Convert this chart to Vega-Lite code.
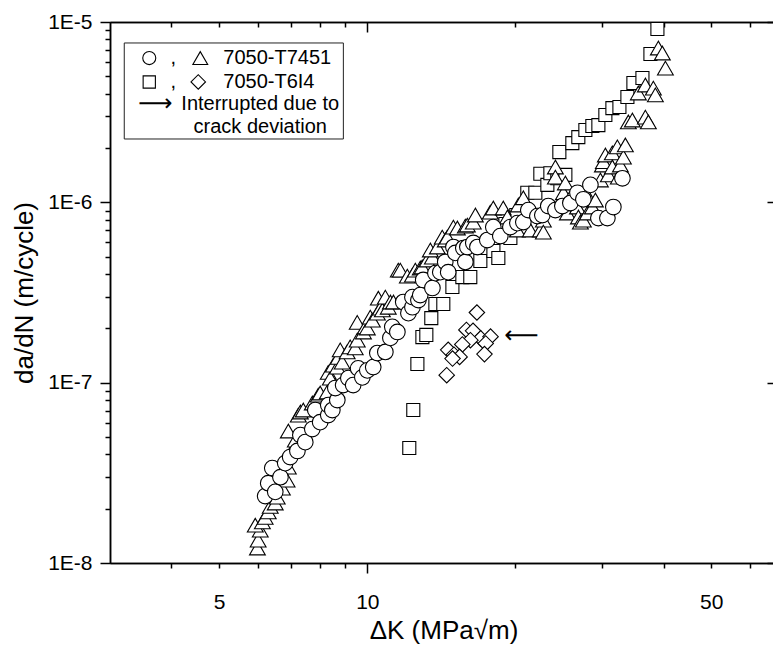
{
"$schema": "https://vega.github.io/schema/vega-lite/v6.json",
"usermeta": {"embedOptions": {"actions": false}},
"width": 667, "height": 541,
"autosize": {"type": "none"},
"padding": {"left": 110, "top": 22, "right": -4, "bottom": 84},
"background": "white",
"config": {
 "font": "Liberation Sans",
 "view": {"stroke": null},
 "axis": {"grid": false, "domainColor": "black", "domainWidth": 1.5, "tickColor": "black", "tickWidth": 1.5, "labelColor": "black", "labelFontSize": 21, "labelFont": "Liberation Sans", "titleFont": "Liberation Sans", "titleFontSize": 26, "titleFontWeight": "normal", "titleColor": "black", "labelFlush": false, "labelOverlap": false}
},
"datasets": {"pts": [
{"series":"sq","dK":12.17,"rate":4.34e-8},{"series":"sq","dK":12.4,"rate":7.05e-8},{"series":"sq","dK":12.64,"rate":1.27e-7},{"series":"sq","dK":12.94,"rate":1.79e-7},{"series":"sq","dK":13.18,"rate":1.84e-7},{"series":"sq","dK":13.49,"rate":2.28e-7},{"series":"sq","dK":13.75,"rate":2.73e-7},{"series":"sq","dK":14.27,"rate":2.73e-7},{"series":"sq","dK":14.89,"rate":3.39e-7},{"series":"sq","dK":15.6,"rate":3.85e-7},{"series":"sq","dK":16.19,"rate":3.85e-7},{"series":"sq","dK":16.97,"rate":4.73e-7},{"series":"sq","dK":18.04,"rate":5.37e-7},{"series":"sq","dK":18.46,"rate":4.91e-7},{"series":"sq","dK":19.08,"rate":7.58e-7},{"series":"sq","dK":19.53,"rate":6.34e-7},{"series":"sq","dK":20.08,"rate":8.5e-7},{"series":"sq","dK":21.14,"rate":1.13e-6},{"series":"sq","dK":21.95,"rate":1.13e-6},{"series":"sq","dK":22.47,"rate":1.44e-6},{"series":"sq","dK":23.22,"rate":1.25e-6},{"series":"sq","dK":23.55,"rate":1.45e-6},{"series":"sq","dK":24.33,"rate":1.36e-6},{"series":"sq","dK":24.56,"rate":1.9e-6},{"series":"sq","dK":25.26,"rate":1.42e-6},{"series":"sq","dK":26.1,"rate":2.13e-6},{"series":"sq","dK":26.84,"rate":2.3e-6},{"series":"sq","dK":27.74,"rate":2.52e-6},{"series":"sq","dK":28.66,"rate":2.65e-6},{"series":"sq","dK":29.48,"rate":2.68e-6},{"series":"sq","dK":30.46,"rate":3.05e-6},{"series":"sq","dK":31.48,"rate":3.33e-6},{"series":"sq","dK":32.53,"rate":3.38e-6},{"series":"sq","dK":33.77,"rate":3.84e-6},{"series":"sq","dK":34.73,"rate":4.59e-6},{"series":"sq","dK":36.23,"rate":4.89e-6},{"series":"sq","dK":37.61,"rate":6.65e-6},{"series":"sq","dK":38.86,"rate":9.15e-6},
{"series":"tr","dK":5.98,"rate":1.21e-8},{"series":"tr","dK":6.0,"rate":1.34e-8},{"series":"tr","dK":6.06,"rate":1.52e-8},{"series":"tr","dK":5.92,"rate":1.62e-8},{"series":"tr","dK":6.12,"rate":1.69e-8},{"series":"tr","dK":6.2,"rate":1.79e-8},{"series":"tr","dK":6.29,"rate":1.92e-8},{"series":"tr","dK":6.35,"rate":2.06e-8},{"series":"tr","dK":6.5,"rate":2.15e-8},{"series":"tr","dK":6.56,"rate":2.32e-8},{"series":"tr","dK":6.72,"rate":2.6e-8},{"series":"tr","dK":6.81,"rate":2.95e-8},{"series":"tr","dK":6.87,"rate":2.88e-8},{"series":"tr","dK":6.81,"rate":3.49e-8},{"series":"tr","dK":6.91,"rate":3.4e-8},{"series":"tr","dK":7.04,"rate":4.23e-8},{"series":"tr","dK":7.14,"rate":4.8e-8},{"series":"tr","dK":6.91,"rate":5.39e-8},{"series":"tr","dK":7.24,"rate":6.61e-8},{"series":"tr","dK":7.31,"rate":6.87e-8},{"series":"tr","dK":7.41,"rate":7.05e-8},{"series":"tr","dK":7.73,"rate":7.71e-8},{"series":"tr","dK":7.95,"rate":8.53e-8},{"series":"tr","dK":8.02,"rate":8.76e-8},{"series":"tr","dK":8.29,"rate":8.87e-8},{"series":"tr","dK":8.33,"rate":1.14e-7},{"series":"tr","dK":8.41,"rate":1.06e-7},{"series":"tr","dK":8.53,"rate":1.25e-7},{"series":"tr","dK":8.69,"rate":1.22e-7},{"series":"tr","dK":8.73,"rate":1.38e-7},{"series":"tr","dK":8.89,"rate":1.3e-7},{"series":"tr","dK":8.81,"rate":1.52e-7},{"series":"tr","dK":9.1,"rate":1.48e-7},{"series":"tr","dK":9.23,"rate":1.58e-7},{"series":"tr","dK":9.45,"rate":1.56e-7},{"series":"tr","dK":9.54,"rate":1.72e-7},{"series":"tr","dK":9.54,"rate":2.16e-7},{"series":"tr","dK":9.82,"rate":1.91e-7},{"series":"tr","dK":9.91,"rate":2.04e-7},{"series":"tr","dK":10.0,"rate":2.01e-7},{"series":"tr","dK":10.14,"rate":2.31e-7},{"series":"tr","dK":10.24,"rate":2.22e-7},{"series":"tr","dK":10.48,"rate":2.43e-7},{"series":"tr","dK":10.53,"rate":2.94e-7},{"series":"tr","dK":10.63,"rate":2.59e-7},{"series":"tr","dK":10.73,"rate":2.53e-7},{"series":"tr","dK":10.88,"rate":2.98e-7},{"series":"tr","dK":11.03,"rate":2.62e-7},{"series":"tr","dK":11.14,"rate":2.8e-7},{"series":"tr","dK":11.3,"rate":2.8e-7},{"series":"tr","dK":11.56,"rate":4.21e-7},{"series":"tr","dK":11.67,"rate":4.21e-7},{"series":"tr","dK":12.06,"rate":3.9e-7},{"series":"tr","dK":12.35,"rate":3.95e-7},{"series":"tr","dK":12.52,"rate":4.21e-7},{"series":"tr","dK":12.81,"rate":4.32e-7},{"series":"tr","dK":12.93,"rate":4.38e-7},{"series":"tr","dK":13.24,"rate":4.79e-7},{"series":"tr","dK":13.56,"rate":4.97e-7},{"series":"tr","dK":13.43,"rate":5.44e-7},{"series":"tr","dK":13.88,"rate":5.65e-7},{"series":"tr","dK":14.2,"rate":6.41e-7},{"series":"tr","dK":14.4,"rate":6.18e-7},{"series":"tr","dK":14.54,"rate":6.41e-7},{"series":"tr","dK":14.96,"rate":7.29e-7},{"series":"tr","dK":15.24,"rate":7.2e-7},{"series":"tr","dK":15.82,"rate":7.38e-7},{"series":"tr","dK":15.97,"rate":7.48e-7},{"series":"tr","dK":16.42,"rate":7.77e-7},{"series":"tr","dK":16.58,"rate":8.5e-7},{"series":"tr","dK":17.78,"rate":8.83e-7},{"series":"tr","dK":18.03,"rate":9.3e-7},{"series":"tr","dK":18.89,"rate":9.3e-7},{"series":"tr","dK":19.26,"rate":8.29e-7},{"series":"tr","dK":20.18,"rate":7.02e-7},{"series":"tr","dK":20.27,"rate":9.66e-7},{"series":"tr","dK":20.75,"rate":1.06e-6},{"series":"tr","dK":21.44,"rate":7.02e-7},{"series":"tr","dK":22.47,"rate":7.02e-7},{"series":"tr","dK":22.79,"rate":7.97e-7},{"series":"tr","dK":22.79,"rate":6.84e-7},{"series":"tr","dK":24.11,"rate":1.57e-6},{"series":"tr","dK":24.11,"rate":1.38e-6},{"series":"tr","dK":25.03,"rate":1.13e-6},{"series":"tr","dK":25.26,"rate":1.28e-6},{"series":"tr","dK":25.5,"rate":8.72e-7},{"series":"tr","dK":25.86,"rate":1.07e-6},{"series":"tr","dK":26.73,"rate":9.42e-7},{"series":"tr","dK":26.85,"rate":8.29e-7},{"series":"tr","dK":27.1,"rate":7.77e-7},{"series":"tr","dK":27.48,"rate":7.97e-7},{"series":"tr","dK":28.0,"rate":8.72e-7},{"series":"tr","dK":28.13,"rate":1.07e-6},{"series":"tr","dK":28.67,"rate":9.42e-7},{"series":"tr","dK":29.07,"rate":1.03e-6},{"series":"tr","dK":29.76,"rate":1.33e-6},{"series":"tr","dK":30.04,"rate":1.61e-6},{"series":"tr","dK":30.18,"rate":1.68e-6},{"series":"tr","dK":30.46,"rate":1.83e-6},{"series":"tr","dK":30.89,"rate":1.42e-6},{"series":"tr","dK":31.47,"rate":1.88e-6},{"series":"tr","dK":31.47,"rate":1.57e-6},{"series":"tr","dK":32.22,"rate":2.03e-6},{"series":"tr","dK":32.37,"rate":1.38e-6},{"series":"tr","dK":32.68,"rate":1.61e-6},{"series":"tr","dK":33.14,"rate":1.78e-6},{"series":"tr","dK":33.45,"rate":2.08e-6},{"series":"tr","dK":33.92,"rate":2.79e-6},{"series":"tr","dK":34.56,"rate":2.86e-6},{"series":"tr","dK":35.54,"rate":4.04e-6},{"series":"tr","dK":36.73,"rate":4.47e-6},{"series":"tr","dK":36.73,"rate":2.97e-6},{"series":"tr","dK":37.25,"rate":2.79e-6},{"series":"tr","dK":38.13,"rate":4.3e-6},{"series":"tr","dK":38.49,"rate":3.94e-6},{"series":"tr","dK":39.03,"rate":7.17e-6},{"series":"tr","dK":39.77,"rate":6.73e-6},{"series":"tr","dK":40.34,"rate":5.55e-6},
{"series":"di","dK":16.7,"rate":2.45e-7},{"series":"di","dK":15.9,"rate":1.96e-7},{"series":"di","dK":16.4,"rate":1.94e-7},{"series":"di","dK":17.0,"rate":1.76e-7},{"series":"di","dK":17.8,"rate":1.8e-7},{"series":"di","dK":16.2,"rate":1.72e-7},{"series":"di","dK":15.6,"rate":1.63e-7},{"series":"di","dK":17.4,"rate":1.65e-7},{"series":"di","dK":14.6,"rate":1.52e-7},{"series":"di","dK":15.0,"rate":1.43e-7},{"series":"di","dK":15.4,"rate":1.39e-7},{"series":"di","dK":17.3,"rate":1.44e-7},{"series":"di","dK":14.9,"rate":1.36e-7},{"series":"di","dK":14.5,"rate":1.1e-7},
{"series":"ci","dK":6.2,"rate":2.35e-8},{"series":"ci","dK":6.29,"rate":2.77e-8},{"series":"ci","dK":6.5,"rate":2.48e-8},{"series":"ci","dK":6.41,"rate":3.36e-8},{"series":"ci","dK":6.66,"rate":2.99e-8},{"series":"ci","dK":6.81,"rate":3.58e-8},{"series":"ci","dK":6.97,"rate":3.87e-8},{"series":"ci","dK":7.21,"rate":4.18e-8},{"series":"ci","dK":7.31,"rate":5.12e-8},{"series":"ci","dK":7.48,"rate":4.68e-8},{"series":"ci","dK":7.73,"rate":5.53e-8},{"series":"ci","dK":7.84,"rate":7.05e-8},{"series":"ci","dK":8.02,"rate":6.04e-8},{"series":"ci","dK":8.33,"rate":6.61e-8},{"series":"ci","dK":8.33,"rate":7.51e-8},{"series":"ci","dK":8.49,"rate":7.05e-8},{"series":"ci","dK":8.69,"rate":8.01e-8},{"series":"ci","dK":8.61,"rate":9.34e-8},{"series":"ci","dK":8.93,"rate":9.7e-8},{"series":"ci","dK":9.15,"rate":1.06e-7},{"series":"ci","dK":9.36,"rate":9.7e-8},{"series":"ci","dK":9.58,"rate":1.2e-7},{"series":"ci","dK":9.77,"rate":1.07e-7},{"series":"ci","dK":10.0,"rate":1.17e-7},{"series":"ci","dK":10.28,"rate":1.22e-7},{"series":"ci","dK":10.48,"rate":1.46e-7},{"series":"ci","dK":10.88,"rate":1.48e-7},{"series":"ci","dK":11.14,"rate":1.77e-7},{"series":"ci","dK":11.24,"rate":2.04e-7},{"series":"ci","dK":11.51,"rate":1.91e-7},{"series":"ci","dK":11.83,"rate":2.8e-7},{"series":"ci","dK":12.12,"rate":2.43e-7},{"series":"ci","dK":12.35,"rate":2.62e-7},{"series":"ci","dK":12.35,"rate":2.98e-7},{"series":"ci","dK":12.7,"rate":2.87e-7},{"series":"ci","dK":12.81,"rate":3.06e-7},{"series":"ci","dK":12.99,"rate":3.71e-7},{"series":"ci","dK":13.56,"rate":3.35e-7},{"series":"ci","dK":13.75,"rate":4.05e-7},{"series":"ci","dK":14.07,"rate":4.1e-7},{"series":"ci","dK":14.4,"rate":4.67e-7},{"series":"ci","dK":14.6,"rate":4.1e-7},{"series":"ci","dK":14.96,"rate":5.65e-7},{"series":"ci","dK":15.1,"rate":5.24e-7},{"series":"ci","dK":15.67,"rate":5.58e-7},{"series":"ci","dK":15.82,"rate":4.67e-7},{"series":"ci","dK":15.97,"rate":5.65e-7},{"series":"ci","dK":16.42,"rate":5.95e-7},{"series":"ci","dK":16.74,"rate":5.65e-7},{"series":"ci","dK":17.53,"rate":6.18e-7},{"series":"ci","dK":18.03,"rate":7.29e-7},{"series":"ci","dK":18.63,"rate":6.5e-7},{"series":"ci","dK":19.53,"rate":7.29e-7},{"series":"ci","dK":20.18,"rate":7.67e-7},{"series":"ci","dK":20.75,"rate":7.77e-7},{"series":"ci","dK":21.24,"rate":9.06e-7},{"series":"ci","dK":22.16,"rate":8.39e-7},{"series":"ci","dK":22.68,"rate":8.5e-7},{"series":"ci","dK":23.32,"rate":9.54e-7},{"series":"ci","dK":24.11,"rate":9.06e-7},{"series":"ci","dK":24.91,"rate":9.54e-7},{"series":"ci","dK":25.86,"rate":9.91e-7},{"series":"ci","dK":26.73,"rate":1.13e-6},{"series":"ci","dK":27.48,"rate":1.04e-6},{"series":"ci","dK":28.4,"rate":1.25e-6},{"series":"ci","dK":29.48,"rate":8.18e-7},{"series":"ci","dK":30.75,"rate":8.18e-7},{"series":"ci","dK":31.62,"rate":9.42e-7},{"series":"ci","dK":32.99,"rate":1.36e-6}
]},
"resolve": {"axis": {"x": "independent", "y": "independent"}},
"layer": [
 {"data": {"name": "pts"}, "transform": [{"filter": "datum.series === 'sq'"}],
  "mark": {"type": "point", "shape": "square", "size": 170, "filled": true, "fill": "white", "stroke": "black", "strokeWidth": 1.1, "opacity": 1},
  "encoding": {
   "x": {"field": "dK", "type": "quantitative", "scale": {"type": "log", "domain": [3, 68], "nice": false},
         "axis": {"orient": "bottom", "values": [10], "tickSize": 10, "labelPadding": 18, "labelExpr": "'10'", "title": "ΔK (MPa√m)", "titlePadding": 5}},
   "y": {"field": "rate", "type": "quantitative", "scale": {"type": "log", "domain": [1e-8, 1e-5], "nice": false},
         "axis": {"orient": "left", "values": [1e-8, 1e-7, 1e-6, 1e-5], "tickSize": 10, "labelPadding": 8, "labelExpr": "'1E-' + round(-log(datum.value)/LN10)", "title": "da/dN (m/cycle)", "titlePadding": 10}}
  }},
 {"data": {"name": "pts"}, "transform": [{"filter": "datum.series === 'tr'"}],
  "mark": {"type": "point", "shape": "triangle-up", "size": 250, "filled": true, "fill": "white", "stroke": "black", "strokeWidth": 1.1, "opacity": 1},
  "encoding": {
   "x": {"field": "dK", "type": "quantitative", "scale": {"type": "log", "domain": [3, 68], "nice": false},
         "axis": {"orient": "bottom", "values": [4, 5, 6, 7, 8, 9, 20, 30, 40, 50, 60], "tickSize": 5, "labelPadding": 23, "labelExpr": "datum.value == 5 ? '5' : datum.value == 50 ? '50' : ''", "title": null}},
   "y": {"field": "rate", "type": "quantitative", "scale": {"type": "log", "domain": [1e-8, 1e-5], "nice": false},
         "axis": {"orient": "left", "values": [2e-8, 3e-8, 4e-8, 5e-8, 6e-8, 7e-8, 8e-8, 9e-8, 2e-7, 3e-7, 4e-7, 5e-7, 6e-7, 7e-7, 8e-7, 9e-7, 2e-6, 3e-6, 4e-6, 5e-6, 6e-6, 7e-6, 8e-6, 9e-6], "tickSize": 5, "labels": false, "title": null}}
  }},
 {"data": {"name": "pts"}, "transform": [{"filter": "datum.series === 'di'"}],
  "mark": {"type": "point", "shape": "diamond", "size": 240, "filled": true, "fill": "white", "stroke": "black", "strokeWidth": 1.1, "opacity": 1},
  "encoding": {
   "x": {"field": "dK", "type": "quantitative", "scale": {"type": "log", "domain": [3, 68], "nice": false},
         "axis": {"orient": "top", "values": [10], "tickSize": -10, "labels": false, "title": null}},
   "y": {"field": "rate", "type": "quantitative", "scale": {"type": "log", "domain": [1e-8, 1e-5], "nice": false},
         "axis": {"orient": "right", "values": [1e-8, 1e-7, 1e-6, 1e-5], "tickSize": -10, "labels": false, "title": null}}
  }},
 {"data": {"name": "pts"}, "transform": [{"filter": "datum.series === 'ci'"}],
  "mark": {"type": "point", "shape": "circle", "size": 245, "filled": true, "fill": "white", "stroke": "black", "strokeWidth": 1.1, "opacity": 1},
  "encoding": {
   "x": {"field": "dK", "type": "quantitative", "scale": {"type": "log", "domain": [3, 68], "nice": false},
         "axis": {"orient": "top", "values": [4, 5, 6, 7, 8, 9, 20, 30, 40, 50, 60], "tickSize": -5, "labels": false, "title": null}},
   "y": {"field": "rate", "type": "quantitative", "scale": {"type": "log", "domain": [1e-8, 1e-5], "nice": false}, "axis": null}
  }},
 {"data": {"values": [{}]},
  "mark": {"type": "rect", "fill": "white", "stroke": "#222222", "strokeWidth": 1},
  "encoding": {
   "x": {"datum": 3.207, "type": "quantitative", "scale": {"type": "log", "domain": [3, 68], "nice": false}, "axis": null},
   "x2": {"datum": 8.94},
   "y": {"datum": 7.65e-6, "type": "quantitative", "scale": {"type": "log", "domain": [1e-8, 1e-5], "nice": false}, "axis": null},
   "y2": {"datum": 2.245e-6}
  }},
 {"data": {"values": [{}]},
  "mark": {"type": "point", "shape": "circle", "size": 170, "filled": true, "fill": "white", "stroke": "black", "strokeWidth": 1.1, "opacity": 1},
  "encoding": {"x": {"datum": 3.605, "type": "quantitative", "axis": null}, "y": {"datum": 6.31e-6, "type": "quantitative", "axis": null}}},
 {"data": {"values": [{}]},
  "mark": {"type": "point", "shape": "triangle-up", "size": 220, "filled": true, "fill": "white", "stroke": "black", "strokeWidth": 1.1, "opacity": 1},
  "encoding": {"x": {"datum": 4.577, "type": "quantitative", "axis": null}, "y": {"datum": 6.31e-6, "type": "quantitative", "axis": null}}},
 {"data": {"values": [{}]},
  "mark": {"type": "point", "shape": "square", "size": 150, "filled": true, "fill": "white", "stroke": "black", "strokeWidth": 1.1, "opacity": 1},
  "encoding": {"x": {"datum": 3.605, "type": "quantitative", "axis": null}, "y": {"datum": 4.65e-6, "type": "quantitative", "axis": null}}},
 {"data": {"values": [{}]},
  "mark": {"type": "point", "shape": "diamond", "size": 210, "filled": true, "fill": "white", "stroke": "black", "strokeWidth": 1.1, "opacity": 1},
  "encoding": {"x": {"datum": 4.534, "type": "quantitative", "axis": null}, "y": {"datum": 4.65e-6, "type": "quantitative", "axis": null}}},
 {"data": {"values": [{}]},
  "mark": {"type": "text", "text": ",", "fontSize": 20, "font": "Liberation Sans", "color": "black", "align": "center", "baseline": "middle"},
  "encoding": {"x": {"datum": 4.034, "type": "quantitative", "axis": null}, "y": {"datum": 6.31e-6, "type": "quantitative", "axis": null}}},
 {"data": {"values": [{}]},
  "mark": {"type": "text", "text": ",", "fontSize": 20, "font": "Liberation Sans", "color": "black", "align": "center", "baseline": "middle"},
  "encoding": {"x": {"datum": 4.034, "type": "quantitative", "axis": null}, "y": {"datum": 4.65e-6, "type": "quantitative", "axis": null}}},
 {"data": {"values": [{}]},
  "mark": {"type": "text", "text": "7050-T7451", "fontSize": 20, "font": "Liberation Sans", "color": "black", "align": "left", "baseline": "middle"},
  "encoding": {"x": {"datum": 5.097, "type": "quantitative", "axis": null}, "y": {"datum": 6.31e-6, "type": "quantitative", "axis": null}}},
 {"data": {"values": [{}]},
  "mark": {"type": "text", "text": "7050-T6I4", "fontSize": 20, "font": "Liberation Sans", "color": "black", "align": "left", "baseline": "middle"},
  "encoding": {"x": {"datum": 5.097, "type": "quantitative", "axis": null}, "y": {"datum": 4.65e-6, "type": "quantitative", "axis": null}}},
 {"data": {"values": [{}]},
  "mark": {"type": "text", "text": "⟶", "fontSize": 24, "font": "DejaVu Sans", "color": "black", "align": "center", "baseline": "middle"},
  "encoding": {"x": {"datum": 3.71, "type": "quantitative", "axis": null}, "y": {"datum": 3.51e-6, "type": "quantitative", "axis": null}}},
 {"data": {"values": [{}]},
  "mark": {"type": "text", "text": "Interrupted due to", "fontSize": 20, "font": "Liberation Sans", "color": "black", "align": "center", "baseline": "middle"},
  "encoding": {"x": {"datum": 6.06, "type": "quantitative", "axis": null}, "y": {"datum": 3.51e-6, "type": "quantitative", "axis": null}}},
 {"data": {"values": [{}]},
  "mark": {"type": "text", "text": "crack deviation", "fontSize": 20, "font": "Liberation Sans", "color": "black", "align": "center", "baseline": "middle"},
  "encoding": {"x": {"datum": 6.06, "type": "quantitative", "axis": null}, "y": {"datum": 2.62e-6, "type": "quantitative", "axis": null}}},
 {"data": {"values": [{}]},
  "mark": {"type": "text", "text": "⟵", "fontSize": 24, "font": "DejaVu Sans", "color": "black", "align": "center", "baseline": "middle"},
  "encoding": {"x": {"datum": 20.56, "type": "quantitative", "axis": null}, "y": {"datum": 1.81e-7, "type": "quantitative", "axis": null}}}
]
}
